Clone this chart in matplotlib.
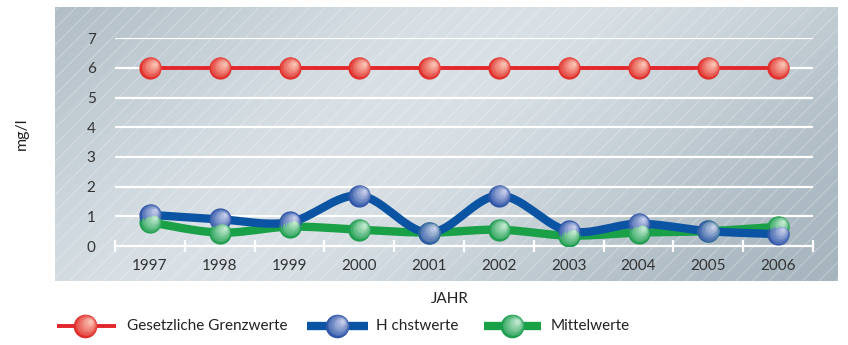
'''
Nitrat im Trinkwasser: Grenzwerte, Hoechst- und Mittelwerte 1997-2006
'''
import numpy as np
import matplotlib
matplotlib.use('Agg')
import matplotlib.pyplot as plt
from matplotlib.patches import Rectangle
from matplotlib import transforms
from matplotlib.colors import to_rgb

years = ['1997', '1998', '1999', '2000', '2001', '2002', '2003', '2004', '2005', '2006']
grenzwerte = [6, 6, 6, 6, 6, 6, 6, 6, 6, 6]
hoechstwerte = [1.05, 0.9, 0.8, 1.7, 0.45, 1.7, 0.5, 0.75, 0.5, 0.4]
mittelwerte = [0.8, 0.45, 0.65, 0.55, 0.45, 0.55, 0.35, 0.45, 0.5, 0.65]
yticks = [0, 1, 2, 3, 4, 5, 6, 7]

series_labels = ['Gesetzliche Grenzwerte', 'H chstwerte', 'Mittelwerte']

plt.rcParams['font.family'] = ['Lato', 'DejaVu Sans']
plt.rcParams['hatch.linewidth'] = 0.7

RED = ('#e3262b', '#e0302c', '#fbc2b2')
BLUE = ('#0b54a4', '#2f56a8', '#c3cbe8')
GREEN = ('#1aa148', '#1f9e50', '#bfe8cf')


def smooth(x, y, n=20):
    # catmull-rom path through the points, just for the drawn line
    x = np.asarray(x, float)
    y = np.asarray(y, float)
    px = np.concatenate([[x[0]], x, [x[-1]]])
    py = np.concatenate([[y[0]], y, [y[-1]]])
    t = np.linspace(0, 1, n, endpoint=False)
    xs, ys = [], []
    for i in range(1, len(px) - 2):
        for p, out in ((px, xs), (py, ys)):
            p0, p1, p2, p3 = p[i - 1], p[i], p[i + 1], p[i + 2]
            out.extend(0.5 * (2 * p1 + (-p0 + p2) * t
                              + (2 * p0 - 5 * p1 + 4 * p2 - p3) * t ** 2
                              + (-p0 + 3 * p1 - 3 * p2 + p3) * t ** 3))
    xs.append(x[-1])
    ys.append(y[-1])
    return np.array(xs), np.array(ys)


def balls(ax, x, y, cols, ms=16):
    # shaded sphere markers: stacked circles fading towards a highlight
    fig = ax.figure
    c0 = np.array(to_rgb(cols[1]))
    c1 = np.array(to_rgb(cols[2]))
    steps = 9
    for k in range(steps):
        f = k / (steps - 1)
        size = ms * (1 - 0.85 * f)
        col = c0 + (c1 - c0) * f ** 0.8
        off = transforms.offset_copy(ax.transData, fig=fig,
                                     x=0.22 * ms * f, y=0.2 * ms * f, units='points')
        ax.plot(x, y, 'o', ms=size, mfc=col, mec='none', transform=off, zorder=5 + 0.01 * k)


fig = plt.figure(figsize=(8.48, 3.45), dpi=100)

# grey backdrop panel with a diagonal gradient and hatching
bg = fig.add_axes([55 / 848, 64 / 345, 783 / 848, 274 / 345])
gx, gy = np.meshgrid(np.linspace(0, 1, 300), np.linspace(0, 1, 120))
u = 0.7 * gx + 0.3 * gy
shade = np.exp(-((u - 0.42) / 0.38) ** 2)
dark = np.array([0.63, 0.69, 0.73])
light = np.array([0.85, 0.88, 0.90])
img = dark + (light - dark) * shade[..., None]
bg.imshow(img, aspect='auto', extent=[0, 1, 0, 1], origin='upper')
bg.add_patch(Rectangle((0, 0), 1, 1, facecolor='none', edgecolor=(1, 1, 1, 0.3),
                       hatch='//', lw=0))
bg.set_xlim(0, 1)
bg.set_ylim(0, 1)
bg.axis('off')

ax = fig.add_axes([115 / 848, 99 / 345, 698 / 848, 207.7 / 345])
ax.patch.set_alpha(0)
x = np.arange(len(years))

for yv in yticks[1:]:
    ax.axhline(yv, color='white', lw=1.6, zorder=1)

sx, sy = smooth(x, mittelwerte)
ax.plot(sx, sy, color=GREEN[0], lw=6, solid_capstyle='round', zorder=2)
sx, sy = smooth(x, hoechstwerte)
ax.plot(sx, sy, color=BLUE[0], lw=6, solid_capstyle='round', zorder=3)
ax.plot(x, grenzwerte, color=RED[0], lw=2.8, zorder=3)

balls(ax, x, mittelwerte, GREEN)
balls(ax, x, hoechstwerte, BLUE)
balls(ax, x, grenzwerte, RED)

ax.set_xlim(-0.5, len(years) - 0.5)
ax.set_ylim(0, 7)
ax.set_xticks(x)
ax.set_xticklabels(years, fontsize=11, color='#333333')
ax.set_xticks(np.arange(-0.5, len(years)), minor=True)
ax.tick_params(axis='x', which='major', length=0, pad=9)
ax.tick_params(axis='x', which='minor', length=8, width=1.6, color='white', direction='inout')
ax.set_yticks(yticks)
ax.set_yticklabels([str(v) for v in yticks], fontsize=11, color='#333333')
ax.tick_params(axis='y', length=0, pad=14)
for s in ['top', 'right', 'left']:
    ax.spines[s].set_visible(False)
ax.spines['bottom'].set_color('white')
ax.spines['bottom'].set_linewidth(1.6)

fig.text(450 / 848, 1 - 299 / 345, 'JAHR', ha='center', va='center', fontsize=11, color='#222222')
fig.text(22 / 848, 1 - 134 / 345, 'mg/l', ha='center', va='center', rotation=90, fontsize=11.5, color='#222222')

# legend drawn in its own strip
leg = fig.add_axes([0, 0, 1, 40 / 345])
leg.set_xlim(0, 848)
leg.set_ylim(345, 305)
leg.axis('off')
entries = [(57, 116, 85, 127, RED, 2.8), (307, 368, 337, 376, BLUE, 6), (484, 541, 512, 551, GREEN, 6)]
for (x0, x1, xm, xt, cols, lw), lab in zip(entries, series_labels):
    leg.plot([x0, x1], [326, 326], color=cols[0], lw=lw, solid_capstyle='butt')
    balls(leg, [xm], [326], cols, ms=17)
    leg.text(xt, 326, lab, va='center', ha='left', fontsize=11, color='#222222')

fig.savefig('out.png', dpi=100)
plt.close()
